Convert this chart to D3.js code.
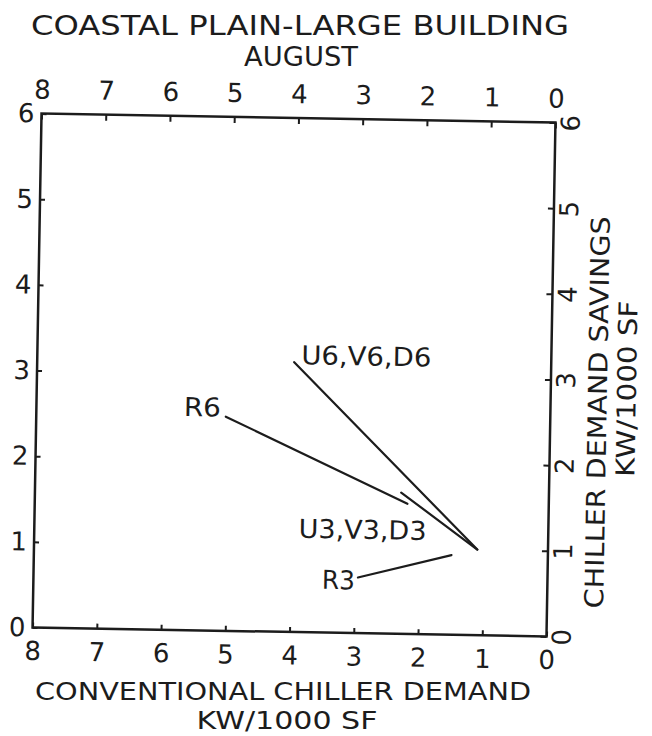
<!DOCTYPE html>
<html>
<head>
<meta charset="utf-8">
<script src="https://cdn.jsdelivr.net/npm/d3@7"></script>
<style>
body { margin: 0; background: #fff; }
svg text { font-family: "DejaVu Sans", sans-serif; fill: #1c1c1c; }
</style>
</head>
<body>
<div id="chart"></div>
<script>
'use strict';

// tick values
let kwTicks = [8, 7, 6, 5, 4, 3, 2, 1, 0];
let savingTicks = [0, 1, 2, 3, 4, 5, 6];

// cases (start = labelled end, end = other end)
let cases = ['U6,V6,D6', 'R6', 'U3,V3,D3', 'R3'];
let demandFrom = [4.0, 5.05, 2.3, 2.95];
let savingFrom = [3.15, 2.5, 1.65, 0.65];
let demandTo = [1.1, 2.2, 1.1, 1.5];
let savingTo = [1.0, 1.52, 1.0, 0.93];

// where each case label sits relative to its line start
let labelPos = [
	{anchor: 'start', dx: 7, dy: 2, len: 130},
	{anchor: 'end', dx: -5, dy: 0, len: 37},
	{anchor: 'middle', dx: -38, dy: 47, len: 128},
	{anchor: 'end', dx: -3, dy: 12, len: 33}
];

let width = 652, height = 736;
let mLeft = 37, mTop = 118, pw = 514, ph = 514;

let svg = d3.select('div#chart').append('svg')
	.attr('width', width)
	.attr('height', height);

// the scanned sheet is turned about one degree
let g = svg.append('g')
	.attr('transform', 'rotate(1,293.75,375)');

let x = d3.scaleLinear().domain([8, 0]).range([mLeft, mLeft + pw]);
let y = d3.scaleLinear().domain([0, 6]).range([mTop + ph, mTop]);

let fs = 26;

function styleAxis(a) {
	a.select('.domain').remove();
	a.selectAll('.tick line').attr('stroke', '#1c1c1c').attr('stroke-width', 2);
	a.selectAll('.tick text')
		.attr('font-size', fs)
		.style('font-family', '"DejaVu Sans", sans-serif')
		.attr('fill', '#1c1c1c');
}

g.append('g')
	.attr('transform', `translate(0,${mTop})`)
	.call(d3.axisTop(x).tickValues(kwTicks).tickSize(-6).tickPadding(15).tickFormat(d3.format('d')))
	.call(styleAxis);

g.append('g')
	.attr('transform', `translate(0,${mTop + ph})`)
	.call(d3.axisBottom(x).tickValues(kwTicks).tickSize(-5).tickPadding(14).tickFormat(d3.format('d')))
	.call(styleAxis);

g.append('g')
	.attr('transform', `translate(${mLeft},0)`)
	.call(d3.axisLeft(y).tickValues(savingTicks).tickSize(-5).tickPadding(7).tickFormat(d3.format('d')))
	.call(styleAxis);

let rightAxis = g.append('g')
	.attr('transform', `translate(${mLeft + pw},0)`)
	.call(d3.axisRight(y).tickValues(savingTicks).tickSize(-6).tickFormat(d3.format('d')))
	.call(styleAxis);

rightAxis.selectAll('.tick text')
	.attr('x', 15)
	.attr('y', 0)
	.attr('dy', '0.35em')
	.attr('text-anchor', 'middle')
	.attr('transform', 'rotate(-90,15,0)');

// frame
g.append('rect')
	.attr('x', mLeft)
	.attr('y', mTop)
	.attr('width', pw)
	.attr('height', ph)
	.attr('fill', 'none')
	.attr('stroke', '#1c1c1c')
	.attr('stroke-width', 2.5);

// case lines
let idx = d3.range(cases.length);

g.selectAll('line.case')
	.data(idx)
	.join('line')
	.classed('case', true)
	.attr('x1', i => x(demandFrom[i]))
	.attr('y1', i => y(savingFrom[i]))
	.attr('x2', i => x(demandTo[i]))
	.attr('y2', i => y(savingTo[i]))
	.attr('stroke', '#1c1c1c')
	.attr('stroke-width', 2.2)
	.attr('stroke-linecap', 'round');

g.selectAll('text.case')
	.data(idx)
	.join('text')
	.classed('case', true)
	.attr('x', i => x(demandFrom[i]) + labelPos[i].dx)
	.attr('y', i => y(savingFrom[i]) + labelPos[i].dy)
	.attr('text-anchor', i => labelPos[i].anchor)
	.attr('font-size', fs)
	.attr('textLength', i => labelPos[i].len)
	.attr('lengthAdjust', 'spacingAndGlyphs')
	.text(i => cases[i]);

// titles
function title(parent, txt, cx, cy, len, size, rot) {
	let t = parent.append('text')
		.attr('x', cx)
		.attr('y', cy)
		.attr('text-anchor', 'middle')
		.attr('font-size', size)
		.attr('textLength', len)
		.attr('lengthAdjust', 'spacingAndGlyphs')
		.text(txt);
	if (rot) {
		t.attr('dy', '0.35em').attr('transform', `rotate(-90,${cx},${cy})`);
	}
}

title(svg, 'COASTAL PLAIN-LARGE BUILDING', 300, 35, 538, fs);
title(svg, 'AUGUST', 301, 66, 114, fs);
title(svg, 'CONVENTIONAL CHILLER DEMAND', 283, 700, 496, 24);
title(svg, 'KW/1000 SF', 287, 729, 181, 24);
title(g, 'CHILLER DEMAND SAVINGS', 598, 407, 392, fs, true);
title(g, 'KW/1000 SF', 627, 383, 176, fs, true);
</script>
</body>
</html>
